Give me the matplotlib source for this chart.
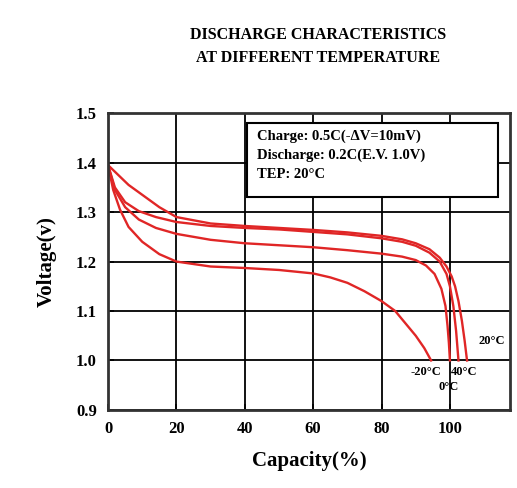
import matplotlib
matplotlib.use("Agg")
import matplotlib.pyplot as plt
from matplotlib.patches import Rectangle

# discharge curves
x_20 = [0, 3, 6, 10, 15, 20, 30, 40, 50, 60, 70, 80, 86, 90, 94, 97, 99, 100.5, 101.5, 102.5, 103.5, 104.3, 105]
v_20 = [1.395, 1.375, 1.355, 1.335, 1.31, 1.29, 1.277, 1.272, 1.268, 1.264, 1.259, 1.252, 1.245, 1.237, 1.225, 1.208, 1.19, 1.17, 1.15, 1.12, 1.08, 1.04, 1.0]

x_40 = [0, 2, 5, 9, 14, 20, 30, 40, 50, 60, 70, 80, 86, 90, 94, 97, 99, 100, 101, 101.8, 102.5]
v_40 = [1.395, 1.35, 1.32, 1.302, 1.29, 1.28, 1.272, 1.268, 1.265, 1.26, 1.255, 1.247, 1.24, 1.232, 1.218, 1.2, 1.175, 1.15, 1.11, 1.06, 1.0]

x_0 = [0, 2, 5, 9, 14, 20, 30, 40, 50, 60, 70, 80, 86, 90, 93, 95.5, 97.5, 98.7, 99.3, 99.7, 100]
v_0 = [1.395, 1.345, 1.31, 1.285, 1.268, 1.256, 1.244, 1.237, 1.233, 1.229, 1.223, 1.216, 1.21, 1.203, 1.192, 1.175, 1.145, 1.11, 1.07, 1.035, 1.0]

x_m20 = [0, 1.5, 3.5, 6, 10, 15, 20, 30, 40, 50, 60, 65, 70, 75, 80, 84, 87, 90, 92.5, 94.5]
v_m20 = [1.395, 1.345, 1.305, 1.27, 1.24, 1.215, 1.2, 1.19, 1.187, 1.183, 1.176, 1.168, 1.157, 1.14, 1.12, 1.1, 1.075, 1.05, 1.025, 1.0]

x_ticks = [0, 20, 40, 60, 80, 100]
y_ticks = [0.9, 1.0, 1.1, 1.2, 1.3, 1.4, 1.5]

font = "Liberation Serif"
red = "#e02626"

fig = plt.figure(figsize=(5.17, 4.88), dpi=100)
ax = fig.add_axes([0.209, 0.16, 0.777, 0.608])

for xs, vs in [(x_20, v_20), (x_40, v_40), (x_0, v_0), (x_m20, v_m20)]:
    ax.plot(xs, vs, color=red, lw=1.7)

ax.set_xlim(0, 117.5)
ax.set_ylim(0.9, 1.5)
ax.set_xticks(x_ticks)
ax.set_yticks(y_ticks)
ax.set_xticklabels([str(t) for t in x_ticks], fontfamily=font, fontweight="bold", fontsize=12)
ax.set_yticklabels(["%.1f" % t for t in y_ticks], fontfamily=font, fontweight="bold", fontsize=12)
ax.tick_params(direction="in", length=4, width=1.2, pad=8)
ax.grid(True, color="black", lw=1.3)
for s in ax.spines.values():
    s.set_linewidth(2)
    s.set_color("#333333")

ax.set_xlabel("Capacity(%)", fontfamily=font, fontweight="bold", fontsize=15, labelpad=10)
ax.set_ylabel("Voltage(v)", fontfamily=font, fontweight="bold", fontsize=15, labelpad=14)

fig.text(0.615, 0.905, "DISCHARGE CHARACTERISTICS\nAT DIFFERENT TEMPERATURE",
         ha="center", va="center", fontfamily=font, fontweight="bold", fontsize=11.5, linespacing=1.6)

# condition box
ax.add_patch(Rectangle((40.6, 1.33), 73.4, 0.15, fc="white", ec="black", lw=1.5, zorder=3))
ax.text(43.5, 1.467, "Charge: 0.5C(-ΔV=10mV)\nDischarge: 0.2C(E.V. 1.0V)\nTEP: 20°C",
        ha="left", va="top", fontfamily=font, fontweight="bold", fontsize=10.5, linespacing=1.55,
        zorder=4)

lab = dict(fontfamily=font, fontweight="bold", fontsize=9)
ax.text(108.5, 1.04, "20°C", ha="left", va="center", **lab)
ax.text(97.5, 0.977, "-20°C", ha="right", va="center", **lab)
ax.text(100.3, 0.977, "40°C", ha="left", va="center", **lab)
ax.text(99.5, 0.947, "0°C", ha="center", va="center", **lab)

fig.savefig("out.png", dpi=100)
